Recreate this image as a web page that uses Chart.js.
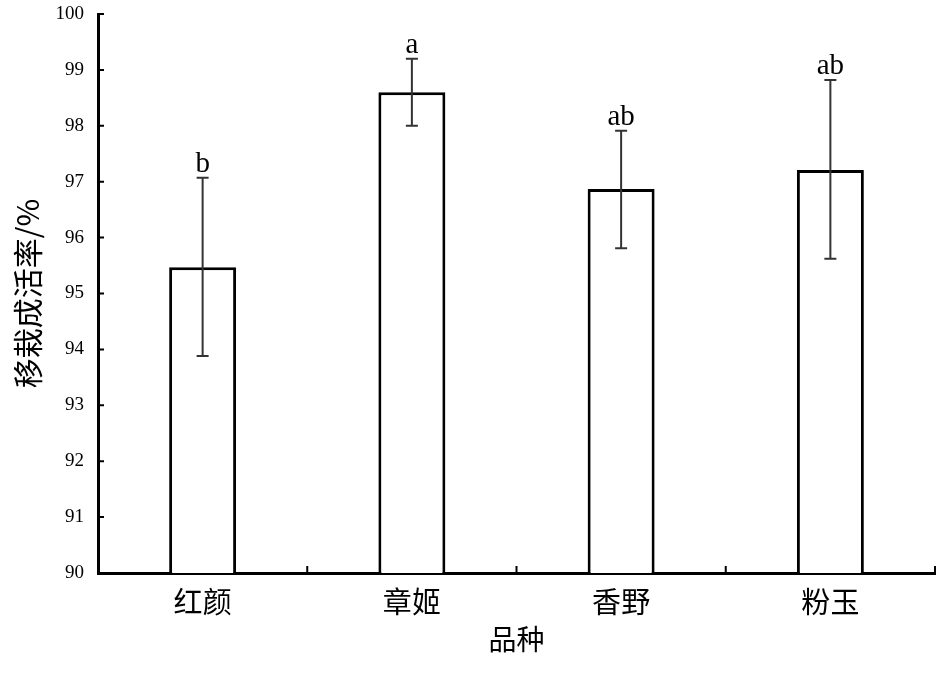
<html>
<head>
<meta charset="utf-8">
<script src="https://cdn.jsdelivr.net/npm/chart.js@4.4.0/dist/chart.umd.min.js"></script>
<style>
	body { margin: 0; background: #fff; }
</style>
</head>
<body>
<canvas id="myChart" width="945" height="674"></canvas>
<script>
	var varieties = ['红颜', '章姬', '香野', '粉玉'];
	var survival = [95.47, 98.60, 96.87, 97.21];
	var errLow = [93.88, 98.00, 95.81, 95.62];
	var errHigh = [97.07, 99.20, 97.91, 98.82];
	var letters = ['b', 'a', 'ab', 'ab'];
	var yTicks = [90, 91, 92, 93, 94, 95, 96, 97, 98, 99, 100];

	var serif = '"Liberation Serif", "Times New Roman", serif';
	var cjk = '"Noto Sans CJK SC", sans-serif';

	// error bars, letters and inward tick marks
	var extras = {
		id: 'extras',
		afterDatasetsDraw: function(chart) {
			var ctx = chart.ctx;
			var x = chart.scales.x;
			var y = chart.scales.y;
			ctx.save();
			ctx.strokeStyle = '#333';
			ctx.lineWidth = 2;
			for (var i = 0; i < survival.length; ++i) {
				var cx = x.getPixelForValue(i);
				var top = y.getPixelForValue(errHigh[i]);
				var bot = y.getPixelForValue(errLow[i]);
				ctx.beginPath();
				ctx.moveTo(cx, top); ctx.lineTo(cx, bot);
				ctx.moveTo(cx - 6, top); ctx.lineTo(cx + 6, top);
				ctx.moveTo(cx - 6, bot); ctx.lineTo(cx + 6, bot);
				ctx.stroke();
				ctx.fillStyle = '#000';
				ctx.font = '29px ' + serif;
				ctx.textAlign = 'center';
				ctx.textBaseline = 'alphabetic';
				ctx.fillText(letters[i], cx, top - 6);
			}
			// tick marks pointing into the plot
			ctx.strokeStyle = '#000';
			ctx.lineWidth = 2;
			ctx.beginPath();
			for (var j = 0; j < yTicks.length; ++j) {
				var py = y.getPixelForValue(yTicks[j]);
				ctx.moveTo(y.right, py); ctx.lineTo(y.right + 6, py);
			}
			var step = x.width / varieties.length;
			for (var k = 1; k <= varieties.length; ++k) {
				var px = x.left + k * step;
				ctx.moveTo(px, x.top); ctx.lineTo(px, x.top - 7);
			}
			ctx.stroke();
			ctx.restore();
		}
	};

	var ctx = document.getElementById('myChart').getContext('2d');
	var chart = new Chart(ctx, {
		type: 'bar',
		data: {
			labels: varieties,
			datasets: [{
				data: survival,
				backgroundColor: '#fff',
				borderColor: '#000',
				borderWidth: 3,
				borderSkipped: 'bottom',
				barPercentage: 0.32,
				categoryPercentage: 1.0
			}]
		},
		options: {
			responsive: false,
			animation: false,
			layout: { padding: { top: 14, right: 10, left: 0, bottom: 0 } },
			plugins: { legend: { display: false }, tooltip: { enabled: false } },
			scales: {
				x: {
					grid: { display: false, drawTicks: false },
					border: { display: true, color: '#000', width: 3 },
					ticks: { color: '#000', font: { family: cjk, size: 29 }, padding: 12 },
					title: { display: true, text: '品种', color: '#000', font: { family: cjk, size: 28 }, padding: { top: 0, bottom: 18 } },
					afterFit: function(s) { s.height = 101; s.paddingLeft = 0; s.paddingRight = 0; }
				},
				y: {
					min: 90,
					max: 100,
					grid: { display: false, drawTicks: false },
					border: { display: true, color: '#000', width: 3 },
					ticks: { stepSize: 1, color: '#000', font: { family: serif, size: 19 }, padding: 14 },
					title: { display: true, text: '移栽成活率/%', color: '#000', font: { family: cjk, size: 30 }, padding: { top: 10, bottom: 6 } },
					afterFit: function(s) { s.width = 98; s.paddingTop = 0; s.paddingBottom = 0; }
				}
			}
		},
		plugins: [extras]
	});
</script>
</body>
</html>
